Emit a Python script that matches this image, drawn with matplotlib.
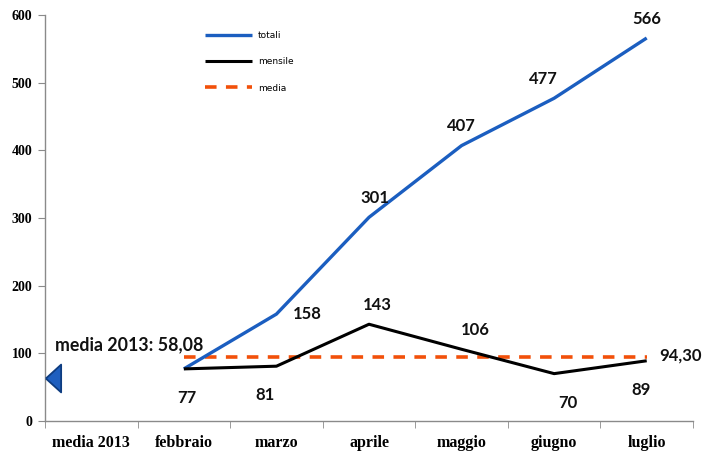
import matplotlib
matplotlib.use("Agg")
import matplotlib.pyplot as plt
from matplotlib.ticker import FixedLocator

categories = ["media 2013", "febbraio", "marzo", "aprile", "maggio", "giugno", "luglio"]
months = categories[1:]
totali = [77, 158, 301, 407, 477, 566]
mensile = [77, 81, 143, 106, 70, 89]
media_val = 94.30
media_2013 = 58.08
yticks = [0, 100, 200, 300, 400, 500, 600]

# label placement: offset in points (dx, dy)
tot_offsets = [None, (22, 0), (4, 14), (0, 14), (-8, 14), (0, 14)]
men_offsets = [(2, -21), (-8, -21), (6, 14), (10, 14), (10, -21), (-4, -21)]

fig = plt.figure(figsize=(7.03, 4.53), dpi=100)
ax = fig.add_axes([45/703, 32/453, (693-45)/703, (421-15)/453])

xm = list(range(1, 7))
blue = "#1B5EC0"
ax.plot(xm, totali, color=blue, lw=2.4, solid_capstyle="butt", label="totali", zorder=3)
ax.plot(xm, mensile, color="black", lw=2.2, solid_capstyle="butt", label="mensile", zorder=3)
ax.plot(xm, [media_val]*len(xm), color="#F2500A", lw=2.6, ls=(0, (3.2, 2.6)), label="media", zorder=2)

tri = [(-0.55, 0), (0.55, 1), (0.55, -1), (-0.55, 0)]
ax.plot([-0.41], [media_2013 + 5], marker=tri, markersize=20, color="#1F5FBF",
        markeredgecolor="#0E3C80", markeredgewidth=1.3, clip_on=False, zorder=4)

lab_font = dict(family="Lato", fontweight="bold", fontsize=12, color="#111111")
for i, (x, v) in enumerate(zip(xm, totali)):
    if tot_offsets[i] is None:
        continue
    ax.annotate(str(v), (x, v), xytext=tot_offsets[i], textcoords="offset points",
                ha="center", va="center", **lab_font)
for i, (x, v) in enumerate(zip(xm, mensile)):
    ax.annotate(str(v), (x, v), xytext=men_offsets[i], textcoords="offset points",
                ha="center", va="center", **lab_font)
ax.annotate(f"{media_val:.2f}".replace(".", ","), (xm[-1], media_val), xytext=(9, 1),
            textcoords="offset points", ha="left", va="center", **lab_font)
ax.annotate("media 2013: " + f"{media_2013:.2f}".replace(".", ","), (-0.5, 100),
            xytext=(7, 6), textcoords="offset points", ha="left", va="center",
            family="Lato", fontweight="bold", fontsize=12.8, color="#111111")

ax.set_xlim(-0.5, 6.5)
ax.set_ylim(0, 600)
ax.set_yticks(yticks)
ax.set_yticklabels([str(t) for t in yticks], family="Liberation Serif", fontweight="bold", fontsize=10)
ax.set_xticks(range(len(categories)))
ax.set_xticklabels(categories, family="Liberation Serif", fontweight="bold", fontsize=11.5)
ax.xaxis.set_minor_locator(FixedLocator([i - 0.5 for i in range(len(categories) + 1)]))
ax.tick_params(axis="x", which="major", length=0, pad=10)
ax.tick_params(axis="x", which="minor", length=5, color="#8a8a8a", direction="out")
ax.tick_params(axis="y", length=5, color="#8a8a8a", direction="out", pad=4)
for s in ["top", "right"]:
    ax.spines[s].set_visible(False)
for s in ["left", "bottom"]:
    ax.spines[s].set_color("#8a8a8a")
    ax.spines[s].set_linewidth(1)

leg = ax.legend(loc="upper left", bbox_to_anchor=(0.235, 0.98), frameon=False,
                prop=dict(family="DejaVu Sans", size=6.5), handlelength=5.2,
                labelspacing=1.9, handletextpad=0.6)

fig.savefig("out.png", dpi=100)
